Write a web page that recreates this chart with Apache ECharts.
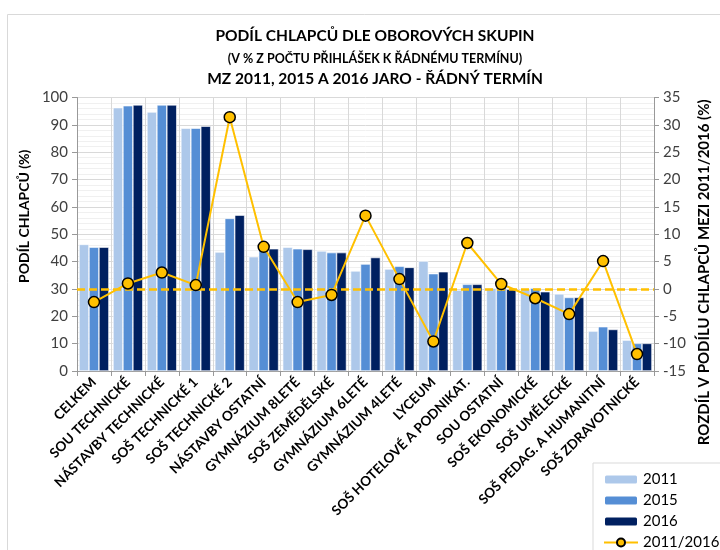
<!DOCTYPE html>
<html>
<head>
<meta charset="utf-8">
<script src="https://cdn.jsdelivr.net/npm/echarts@6/dist/echarts.min.js"></script>
<style>
html,body{margin:0;padding:0;background:#fff;}
#chart{width:720px;height:550px;}
</style>
</head>
<body>
<div id="chart"></div>
<script>
// kategorie a hodnoty
var obory = ['CELKEM','SOU TECHNICKÉ','NÁSTAVBY TECHNICKÉ','SOŠ TECHNICKÉ 1','SOŠ TECHNICKÉ 2','NÁSTAVBY OSTATNÍ','GYMNÁZIUM 8LETÉ','SOŠ ZEMĚDĚLSKÉ','GYMNÁZIUM 6LETÉ','GYMNÁZIUM 4LETÉ','LYCEUM','SOŠ HOTELOVÉ A PODNIKAT.','SOU OSTATNÍ','SOŠ EKONOMICKÉ','SOŠ UMĚLECKÉ','SOŠ PEDAG. A HUMANITNÍ','SOŠ ZDRAVOTNICKÉ'];
var r2011 = [46.3, 96.3, 94.7, 88.8, 43.5, 41.8, 45.3, 43.9, 36.6, 37.3, 40.2, 29.6, 30.3, 30.1, 28.2, 14.6, 11.3];
var r2015 = [45.3, 97.0, 97.3, 88.8, 55.8, 44.5, 44.7, 43.3, 39.1, 38.3, 35.6, 31.7, 30.5, 30.3, 26.9, 16.2, 10.1];
var r2016 = [45.3, 97.3, 97.3, 89.5, 57.0, 44.7, 44.5, 43.3, 41.5, 37.9, 36.3, 31.7, 29.9, 29.0, 26.9, 15.2, 10.1];
var rozdil = [-2.4, 1.0, 3.0, 0.7, 31.4, 7.7, -2.4, -1.1, 13.4, 1.8, -9.6, 8.4, 0.9, -1.7, -4.6, 5.1, -11.9];

var font = 'Lato, "Open Sans", sans-serif';
var chart = echarts.init(document.getElementById('chart'));

function sloupec(name, data, color){
    return {
        name: name,
        type: 'bar',
        data: data,
        barGap: '0%',
        barCategoryGap: '12%',
        itemStyle: {color: color, borderColor: '#fff', borderWidth: 0.6},
        emphasis: {disabled: true}
    };
}

var option = {
    animation: false,
    textStyle: {fontFamily: font},
    title: [
        {text: 'PODÍL CHLAPCŮ DLE OBOROVÝCH SKUPIN', left: 370, top: 23, textAlign: 'center',
         textStyle: {fontSize: 15.5, fontWeight: 'bold', color: '#000', fontFamily: font}},
        {text: '(V % Z POČTU PŘIHLÁŠEK K ŘÁDNÉMU TERMÍNU)', left: 370, top: 47, textAlign: 'center',
         textStyle: {fontSize: 12.5, fontWeight: 'bold', color: '#000', fontFamily: font}},
        {text: 'MZ 2011, 2015 A 2016 JARO - ŘÁDNÝ TERMÍN', left: 370, top: 66, textAlign: 'center',
         textStyle: {fontSize: 15.5, fontWeight: 'bold', color: '#000', fontFamily: font}}
    ],
    graphic: [{
        type: 'rect', left: 5, top: 12, silent: true, z: -10,
        shape: {width: 800, height: 600},
        style: {fill: 'none', stroke: '#d9d9d9', lineWidth: 1}
    }],
    legend: {
        orient: 'vertical',
        left: 593, top: 463, height: 120,
        padding: [9, 40, 10, 10],
        itemGap: 6,
        itemWidth: 34, itemHeight: 10,
        backgroundColor: '#fff',
        borderColor: '#d9d9d9', borderWidth: 1,
        textStyle: {fontSize: 15, color: '#000', fontFamily: font},
        data: ['2011', '2015', '2016', '2011/2016']
    },
    grid: {left: 77, right: 57, top: 97.5, bottom: 179},
    xAxis: {
        type: 'category',
        data: obory,
        axisLine: {lineStyle: {color: '#999'}},
        axisTick: {show: true, length: 5, lineStyle: {color: '#999'}},
        splitLine: {show: true, lineStyle: {color: '#d9d9d9'}},
        axisLabel: {rotate: 45, interval: 0, margin: 9, fontSize: 13.5, fontWeight: 'bold', color: '#000', fontFamily: font}
    },
    yAxis: [{
        type: 'value', min: 0, max: 100, interval: 10,
        name: 'PODÍL CHLAPCŮ (%)', nameLocation: 'middle', nameGap: 40, nameRotate: 90,
        nameTextStyle: {fontSize: 14, fontWeight: 'bold', color: '#000', padding: [0, 0, 0, 36], fontFamily: font},
        axisLine: {show: true, lineStyle: {color: '#999'}},
        axisTick: {show: true, length: 5, lineStyle: {color: '#999'}},
        axisLabel: {fontSize: 15, color: '#404040', margin: 9, fontFamily: font},
        splitLine: {show: true, lineStyle: {color: '#d9d9d9'}},
        minorTick: {show: true, splitNumber: 5, length: 0},
        minorSplitLine: {show: true, lineStyle: {color: '#f0f0f0'}}
    }, {
        type: 'value', min: -15, max: 35, interval: 5,
        name: 'ROZDÍL V PODÍLU CHLAPCŮ MEZI 2011/2016 (%)', nameLocation: 'middle', nameGap: 43, nameRotate: 90,
        nameTextStyle: {fontSize: 15, fontWeight: 'bold', color: '#000', padding: [0, 76, 0, 0], fontFamily: font},
        axisLine: {show: true, lineStyle: {color: '#999'}},
        axisTick: {show: true, length: 5, lineStyle: {color: '#999'}},
        axisLabel: {fontSize: 15, color: '#404040', margin: 9, fontFamily: font},
        splitLine: {show: false}
    }],
    series: [
        sloupec('2011', r2011, '#adc8ea'),
        sloupec('2015', r2015, '#558ed5'),
        sloupec('2016', r2016, '#002060'),
        {
            name: '2011/2016',
            type: 'line',
            yAxisIndex: 1,
            data: rozdil,
            symbol: 'circle',
            symbolSize: 11,
            lineStyle: {color: '#ffc000', width: 2},
            itemStyle: {color: '#ffc000', borderColor: '#000', borderWidth: 1.5},
            emphasis: {disabled: true},
            z: 5,
            markLine: {
                silent: true,
                symbol: 'none',
                label: {show: false},
                lineStyle: {color: '#ffc000', type: [8, 4], width: 2.5},
                data: [{yAxis: 0}]
            }
        }
    ]
};
chart.setOption(option);
</script>
</body>
</html>
